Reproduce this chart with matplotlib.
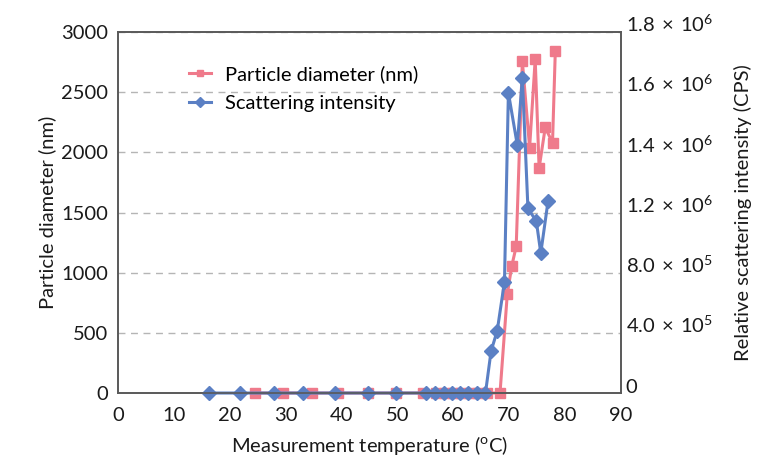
import matplotlib
matplotlib.use("Agg")
import matplotlib.pyplot as plt

plt.rcParams['font.family'] = ['Lato', 'DejaVu Sans']
plt.rcParams['mathtext.fontset'] = 'custom'
plt.rcParams['mathtext.rm'] = 'Lato'

# Particle diameter (nm) vs temperature
temp_d = [24.5, 29.5, 34.8, 39.4, 44.7, 49.8, 54.6, 57.0, 58.5, 60.0, 61.5, 63.0, 64.5, 66.0, 68.4,
          69.7, 70.5, 71.3, 72.4, 73.7, 74.7, 75.4, 76.5, 77.8, 78.3]
diam = [0, 0, 0, 0, 0, 0, 0, 0, 0, 0, 0, 0, 0, 0, 0,
        820, 1055, 1218, 2755, 2040, 2772, 1869, 2207, 2079, 2840]

# Scattering intensity (CPS) vs temperature
temp_s = [16.3, 21.9, 27.9, 33.2, 38.8, 44.7, 49.8, 55.1, 56.8, 58.3, 59.8, 61.2, 62.7, 64.2, 65.8,
          66.8, 67.9, 69.2, 69.9, 71.5, 72.4, 73.4, 74.9, 75.7, 77.0]
intensity = [0, 0, 0, 0, 0, 0, 0, 0, 0, 0, 0, 0, 0, 0, 0,
             2.09e5, 3.10e5, 5.55e5, 1.497e6, 1.236e6, 1.573e6, 9.20e5, 8.57e5, 6.98e5, 9.57e5]

x_ticks = [0, 10, 20, 30, 40, 50, 60, 70, 80, 90]
left_ticks = [0, 500, 1000, 1500, 2000, 2500, 3000]
right_ticks = [0, 3e5, 6e5, 9e5, 1.2e6, 1.5e6, 1.8e6]
right_labels = ['0', r'4.0$\,\times\,$10$^5$', r'8.0$\,\times\,$10$^5$', r'1.2$\,\times\,$10$^6$',
                r'1.4$\,\times\,$10$^6$', r'1.6$\,\times\,$10$^6$', r'1.8$\,\times\,$10$^6$']

red = '#EF7A8B'
blue = '#5B80C4'
txt = '#1a1a1a'
fs = 14.5

fig = plt.figure(figsize=(7.71, 4.57), dpi=100)
ax = fig.add_axes([0.153, 0.140, 0.652, 0.790])
ax2 = ax.twinx()

l1, = ax.plot(temp_d, diam, color=red, marker='s', markersize=6.5, linewidth=2.2,
              label='Particle diameter (nm)', clip_on=False)
l2, = ax2.plot(temp_s, intensity, color=blue, marker='D', markersize=7, linewidth=2.2,
               label='Scattering intensity', clip_on=False)

ax.set_xlim(0, 90)
ax.set_ylim(0, 3000)
ax2.set_ylim(0, 1.8e6)
ax.set_xticks(x_ticks)
ax.set_yticks(left_ticks)
ax2.set_yticks(right_ticks)
ax2.set_yticklabels(right_labels)

ax.tick_params(axis='x', length=0, labelsize=fs, colors=txt, pad=10)
ax.tick_params(axis='y', length=0, labelsize=fs, colors=txt, pad=7)
ax2.tick_params(axis='y', length=0, labelsize=fs, colors=txt, pad=3.5)
for lbl in ax2.get_yticklabels():
    lbl.set_va('baseline')

for a in (ax, ax2):
    for s in a.spines.values():
        s.set_color('#595959')
        s.set_linewidth(1.2)

ax.yaxis.grid(True, linestyle=(0, (5, 4)), color='#b5b5b5', linewidth=1)
ax.set_axisbelow(True)

ax.set_xlabel('Measurement temperature ($^{\\rm o}$C)', fontsize=fs, color=txt, labelpad=7)
ax.set_ylabel('Particle diameter (nm)', fontsize=fs, color=txt, labelpad=4)
ax2.set_ylabel('Relative scattering intensity (CPS)', fontsize=fs, color=txt, labelpad=15)

ax2.legend(handles=[l1, l2], loc='upper left', bbox_to_anchor=(0.125, 0.93), frameon=False,
           fontsize=fs, handlelength=1.1, handletextpad=0.7, borderaxespad=0,
           labelspacing=0.6, markerscale=0.7)

fig.savefig('out.png', dpi=100)
